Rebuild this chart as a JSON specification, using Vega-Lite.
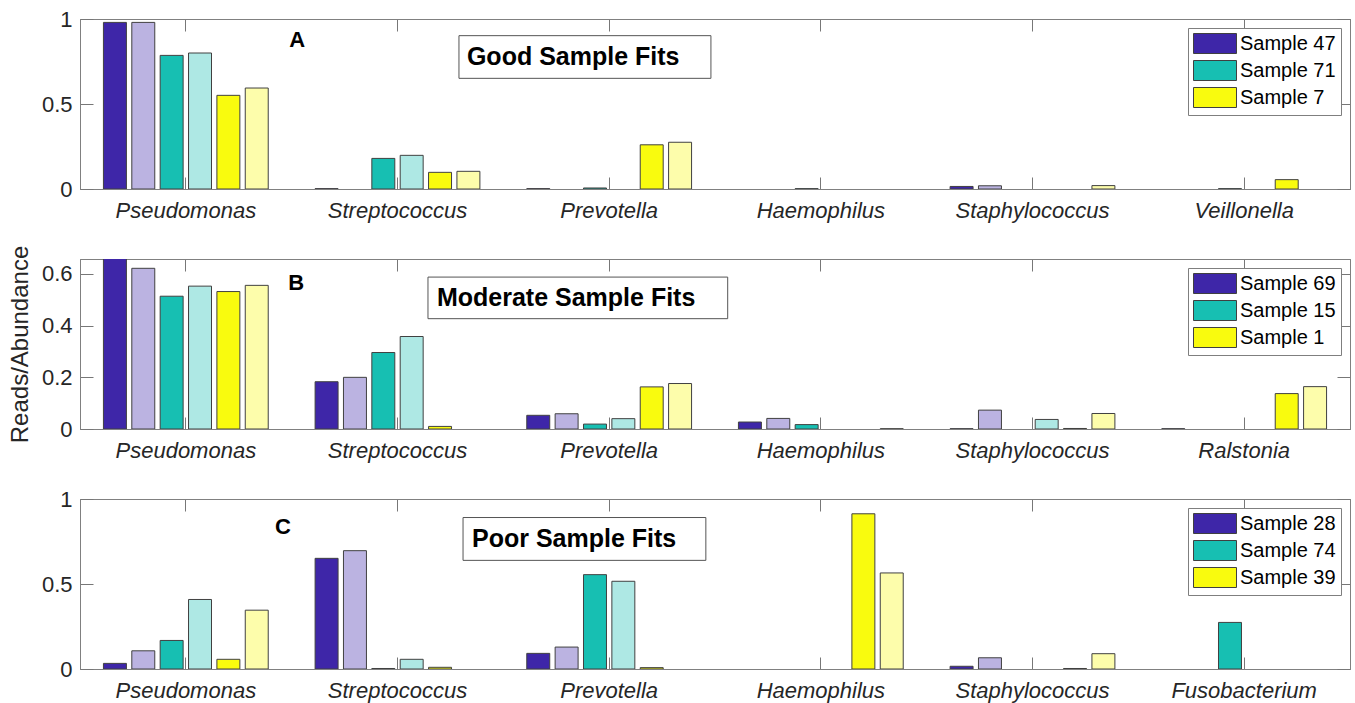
{
  "$schema": "https://vega.github.io/schema/vega-lite/v6.json",
  "padding": {"left": 7, "top": 7, "right": 5, "bottom": 5},
  "spacing": 70,
  "bounds": "flush",
  "config": {
    "font": "Liberation Sans",
    "view": {"stroke": "#808080", "strokeWidth": 1},
    "axis": {"grid": false, "domainColor": "#808080", "tickColor": "#777777", "tickWidth": 1, "labelColor": "#262626", "labelFontSize": 22, "titleFontWeight": "normal", "labelFont": "Liberation Sans", "titleFont": "Liberation Sans"},
    "legend": {"labelFont": "Liberation Sans"}
  },
  "resolve": {
    "scale": {"x": "independent", "y": "independent", "xOffset": "independent", "color": "independent"},
    "legend": {"color": "independent"}
  },
  "vconcat": [
    {
      "width": 1270,
      "height": 170,
      "data": {"values": [
        {"genus": "Pseudomonas", "series": "Sample 47", "value": 0.98},
        {"genus": "Pseudomonas", "series": "Sample 47 (abundance)", "value": 0.98},
        {"genus": "Pseudomonas", "series": "Sample 71", "value": 0.786},
        {"genus": "Pseudomonas", "series": "Sample 71 (abundance)", "value": 0.8},
        {"genus": "Pseudomonas", "series": "Sample 7", "value": 0.551},
        {"genus": "Pseudomonas", "series": "Sample 7 (abundance)", "value": 0.594},
        {"genus": "Streptococcus", "series": "Sample 47", "value": 0.002},
        {"genus": "Streptococcus", "series": "Sample 71", "value": 0.18},
        {"genus": "Streptococcus", "series": "Sample 71 (abundance)", "value": 0.198},
        {"genus": "Streptococcus", "series": "Sample 7", "value": 0.098},
        {"genus": "Streptococcus", "series": "Sample 7 (abundance)", "value": 0.104},
        {"genus": "Prevotella", "series": "Sample 47", "value": 0.002},
        {"genus": "Prevotella", "series": "Sample 71", "value": 0.006},
        {"genus": "Prevotella", "series": "Sample 7", "value": 0.26},
        {"genus": "Prevotella", "series": "Sample 7 (abundance)", "value": 0.275},
        {"genus": "Haemophilus", "series": "Sample 71", "value": 0.002},
        {"genus": "Staphylococcus", "series": "Sample 47", "value": 0.015},
        {"genus": "Staphylococcus", "series": "Sample 47 (abundance)", "value": 0.019},
        {"genus": "Staphylococcus", "series": "Sample 7 (abundance)", "value": 0.02},
        {"genus": "Veillonella", "series": "Sample 71", "value": 0.002},
        {"genus": "Veillonella", "series": "Sample 7", "value": 0.055}
      ]},
      "resolve": {"axis": {"x": "independent", "y": "independent"}},
      "layer": [
        {
          "mark": {"type": "bar", "stroke": "#404040", "strokeWidth": 1, "clip": true},
          "encoding": {
            "x": {"field": "genus", "type": "nominal",
              "scale": {"domain": ["Pseudomonas", "Streptococcus", "Prevotella", "Haemophilus", "Staphylococcus", "Veillonella"], "paddingInner": 0.2, "paddingOuter": 0.1},
              "axis": {"orient": "bottom", "title": null, "labelAngle": 0, "labelFontSize": 22, "labelFontStyle": "italic", "tickSize": -12, "labelPadding": 23}},
            "xOffset": {"field": "series", "type": "nominal",
              "scale": {"domain": ["Sample 47", "Sample 47 (abundance)", "Sample 71", "Sample 71 (abundance)", "Sample 7", "Sample 7 (abundance)"], "paddingInner": 0.19, "paddingOuter": 0.08}},
            "y": {"field": "value", "type": "quantitative",
              "scale": {"domain": [0, 1], "nice": false},
              "axis": {"orient": "left", "title": null, "values": [0, 0.5, 1], "format": "~g", "tickSize": -13, "labelPadding": 21, "labelFlush": false}},
            "color": {"field": "series", "type": "nominal",
              "scale": {"domain": ["Sample 47", "Sample 47 (abundance)", "Sample 71", "Sample 71 (abundance)", "Sample 7", "Sample 7 (abundance)"], "range": ["#3e26a8", "#bbb3e1", "#17bfb2", "#aee8e4", "#f9fb0e", "#fdfdab"]},
              "legend": {"title": null, "orient": "top-right", "offset": 9, "values": ["Sample 47", "Sample 71", "Sample 7"], "symbolType": "M-1,-1H3.3V1H-1Z", "symbolSize": 400, "symbolStrokeColor": "#404040", "symbolStrokeWidth": 1, "symbolOpacity": 1, "labelFontSize": 20, "labelColor": "black", "labelOffset": 26, "rowPadding": 2, "padding": 5, "strokeColor": "#7f7f7f", "fillColor": "white", "labelLimit": 300}}
          }
        },
        {
          "mark": {"type": "point", "opacity": 0},
          "encoding": {
            "x": {"field": "genus", "type": "nominal", "axis": {"orient": "top", "labels": false, "title": null, "tickSize": -12}},
            "y": {"field": "value", "type": "quantitative", "axis": {"orient": "right", "labels": false, "title": null, "values": [0, 0.5, 1], "tickSize": -13}}
          }
        },
        {
          "data": {"values": [{"label": "Good Sample Fits"}]},
          "mark": {"type": "rect", "fill": "white", "stroke": "#555555", "strokeWidth": 1},
          "encoding": {
            "x": {"datum": "Streptococcus", "bandPosition": 0.863, "axis": null},
            "x2": {"datum": "Prevotella", "bandPosition": 1.101},
            "y": {"datum": 0.902, "axis": null},
            "y2": {"datum": 0.651}
          }
        },
        {
          "data": {"values": [{"label": "Good Sample Fits"}]},
          "mark": {"type": "text", "align": "left", "baseline": "middle", "fontSize": 25, "fontWeight": "bold", "color": "black"},
          "encoding": {
            "x": {"datum": "Streptococcus", "bandPosition": 0.91, "axis": null},
            "y": {"datum": 0.776, "axis": null},
            "text": {"field": "label"}
          }
        },
        {
          "data": {"values": [{"label": "A"}]},
          "mark": {"type": "text", "align": "center", "baseline": "middle", "fontSize": 22, "fontWeight": "bold", "color": "black"},
          "encoding": {
            "x": {"datum": "Pseudomonas", "bandPosition": 1.157, "axis": null},
            "y": {"datum": 0.874, "axis": null},
            "text": {"field": "label"}
          }
        }
      ]
    },
    {
      "width": 1270,
      "height": 170,
      "data": {"values": [
        {"genus": "Pseudomonas", "series": "Sample 69", "value": 0.68},
        {"genus": "Pseudomonas", "series": "Sample 69 (abundance)", "value": 0.622},
        {"genus": "Pseudomonas", "series": "Sample 15", "value": 0.514},
        {"genus": "Pseudomonas", "series": "Sample 15 (abundance)", "value": 0.553},
        {"genus": "Pseudomonas", "series": "Sample 1", "value": 0.532},
        {"genus": "Pseudomonas", "series": "Sample 1 (abundance)", "value": 0.556},
        {"genus": "Streptococcus", "series": "Sample 69", "value": 0.183},
        {"genus": "Streptococcus", "series": "Sample 69 (abundance)", "value": 0.2},
        {"genus": "Streptococcus", "series": "Sample 15", "value": 0.296},
        {"genus": "Streptococcus", "series": "Sample 15 (abundance)", "value": 0.358},
        {"genus": "Streptococcus", "series": "Sample 1", "value": 0.01},
        {"genus": "Prevotella", "series": "Sample 69", "value": 0.053},
        {"genus": "Prevotella", "series": "Sample 69 (abundance)", "value": 0.059},
        {"genus": "Prevotella", "series": "Sample 15", "value": 0.019},
        {"genus": "Prevotella", "series": "Sample 15 (abundance)", "value": 0.04},
        {"genus": "Prevotella", "series": "Sample 1", "value": 0.163},
        {"genus": "Prevotella", "series": "Sample 1 (abundance)", "value": 0.176},
        {"genus": "Haemophilus", "series": "Sample 69", "value": 0.027},
        {"genus": "Haemophilus", "series": "Sample 69 (abundance)", "value": 0.041},
        {"genus": "Haemophilus", "series": "Sample 15", "value": 0.017},
        {"genus": "Haemophilus", "series": "Sample 1 (abundance)", "value": 0.001},
        {"genus": "Staphylococcus", "series": "Sample 69", "value": 0.001},
        {"genus": "Staphylococcus", "series": "Sample 69 (abundance)", "value": 0.073},
        {"genus": "Staphylococcus", "series": "Sample 15 (abundance)", "value": 0.037},
        {"genus": "Staphylococcus", "series": "Sample 1", "value": 0.002},
        {"genus": "Staphylococcus", "series": "Sample 1 (abundance)", "value": 0.06},
        {"genus": "Ralstonia", "series": "Sample 69", "value": 0.001},
        {"genus": "Ralstonia", "series": "Sample 1", "value": 0.137},
        {"genus": "Ralstonia", "series": "Sample 1 (abundance)", "value": 0.164}
      ]},
      "resolve": {"axis": {"x": "independent", "y": "independent"}},
      "layer": [
        {
          "mark": {"type": "bar", "stroke": "#404040", "strokeWidth": 1, "clip": true},
          "encoding": {
            "x": {"field": "genus", "type": "nominal",
              "scale": {"domain": ["Pseudomonas", "Streptococcus", "Prevotella", "Haemophilus", "Staphylococcus", "Ralstonia"], "paddingInner": 0.2, "paddingOuter": 0.1},
              "axis": {"orient": "bottom", "title": null, "labelAngle": 0, "labelFontSize": 22, "labelFontStyle": "italic", "tickSize": -12, "labelPadding": 23}},
            "xOffset": {"field": "series", "type": "nominal",
              "scale": {"domain": ["Sample 69", "Sample 69 (abundance)", "Sample 15", "Sample 15 (abundance)", "Sample 1", "Sample 1 (abundance)"], "paddingInner": 0.19, "paddingOuter": 0.08}},
            "y": {"field": "value", "type": "quantitative",
              "scale": {"domain": [0, 0.658], "nice": false},
              "axis": {"orient": "left", "title": "Reads/Abundance", "titleFontSize": 24, "titleColor": "#262626", "titlePadding": 9, "values": [0, 0.2, 0.4, 0.6], "format": "~g", "tickSize": -13, "labelPadding": 21, "labelFlush": false}},
            "color": {"field": "series", "type": "nominal",
              "scale": {"domain": ["Sample 69", "Sample 69 (abundance)", "Sample 15", "Sample 15 (abundance)", "Sample 1", "Sample 1 (abundance)"], "range": ["#3e26a8", "#bbb3e1", "#17bfb2", "#aee8e4", "#f9fb0e", "#fdfdab"]},
              "legend": {"title": null, "orient": "top-right", "offset": 9, "values": ["Sample 69", "Sample 15", "Sample 1"], "symbolType": "M-1,-1H3.3V1H-1Z", "symbolSize": 400, "symbolStrokeColor": "#404040", "symbolStrokeWidth": 1, "symbolOpacity": 1, "labelFontSize": 20, "labelColor": "black", "labelOffset": 26, "rowPadding": 2, "padding": 5, "strokeColor": "#7f7f7f", "fillColor": "white", "labelLimit": 300}}
          }
        },
        {
          "mark": {"type": "point", "opacity": 0},
          "encoding": {
            "x": {"field": "genus", "type": "nominal", "axis": {"orient": "top", "labels": false, "title": null, "tickSize": -12}},
            "y": {"field": "value", "type": "quantitative", "axis": {"orient": "right", "labels": false, "title": null, "values": [0, 0.2, 0.4, 0.6], "tickSize": -13}}
          }
        },
        {
          "data": {"values": [{"label": "Moderate Sample Fits"}]},
          "mark": {"type": "rect", "fill": "white", "stroke": "#555555", "strokeWidth": 1},
          "encoding": {
            "x": {"datum": "Streptococcus", "bandPosition": 0.68, "axis": null},
            "x2": {"datum": "Prevotella", "bandPosition": 1.2},
            "y": {"datum": 0.588, "axis": null},
            "y2": {"datum": 0.427}
          }
        },
        {
          "data": {"values": [{"label": "Moderate Sample Fits"}]},
          "mark": {"type": "text", "align": "left", "baseline": "middle", "fontSize": 25, "fontWeight": "bold", "color": "black"},
          "encoding": {
            "x": {"datum": "Streptococcus", "bandPosition": 0.733, "axis": null},
            "y": {"datum": 0.508, "axis": null},
            "text": {"field": "label"}
          }
        },
        {
          "data": {"values": [{"label": "B"}]},
          "mark": {"type": "text", "align": "center", "baseline": "middle", "fontSize": 22, "fontWeight": "bold", "color": "black"},
          "encoding": {
            "x": {"datum": "Pseudomonas", "bandPosition": 1.151, "axis": null},
            "y": {"datum": 0.564, "axis": null},
            "text": {"field": "label"}
          }
        }
      ]
    },
    {
      "width": 1270,
      "height": 170,
      "data": {"values": [
        {"genus": "Pseudomonas", "series": "Sample 28", "value": 0.033},
        {"genus": "Pseudomonas", "series": "Sample 28 (abundance)", "value": 0.107},
        {"genus": "Pseudomonas", "series": "Sample 74", "value": 0.168},
        {"genus": "Pseudomonas", "series": "Sample 74 (abundance)", "value": 0.409},
        {"genus": "Pseudomonas", "series": "Sample 39", "value": 0.057},
        {"genus": "Pseudomonas", "series": "Sample 39 (abundance)", "value": 0.346},
        {"genus": "Streptococcus", "series": "Sample 28", "value": 0.651},
        {"genus": "Streptococcus", "series": "Sample 28 (abundance)", "value": 0.696},
        {"genus": "Streptococcus", "series": "Sample 74", "value": 0.003},
        {"genus": "Streptococcus", "series": "Sample 74 (abundance)", "value": 0.057},
        {"genus": "Streptococcus", "series": "Sample 39", "value": 0.01},
        {"genus": "Prevotella", "series": "Sample 28", "value": 0.092},
        {"genus": "Prevotella", "series": "Sample 28 (abundance)", "value": 0.129},
        {"genus": "Prevotella", "series": "Sample 74", "value": 0.555},
        {"genus": "Prevotella", "series": "Sample 74 (abundance)", "value": 0.516},
        {"genus": "Prevotella", "series": "Sample 39", "value": 0.008},
        {"genus": "Haemophilus", "series": "Sample 39", "value": 0.913},
        {"genus": "Haemophilus", "series": "Sample 39 (abundance)", "value": 0.565},
        {"genus": "Staphylococcus", "series": "Sample 28", "value": 0.016},
        {"genus": "Staphylococcus", "series": "Sample 28 (abundance)", "value": 0.066},
        {"genus": "Staphylococcus", "series": "Sample 39", "value": 0.003},
        {"genus": "Staphylococcus", "series": "Sample 39 (abundance)", "value": 0.09},
        {"genus": "Fusobacterium", "series": "Sample 74", "value": 0.274}
      ]},
      "resolve": {"axis": {"x": "independent", "y": "independent"}},
      "layer": [
        {
          "mark": {"type": "bar", "stroke": "#404040", "strokeWidth": 1, "clip": true},
          "encoding": {
            "x": {"field": "genus", "type": "nominal",
              "scale": {"domain": ["Pseudomonas", "Streptococcus", "Prevotella", "Haemophilus", "Staphylococcus", "Fusobacterium"], "paddingInner": 0.2, "paddingOuter": 0.1},
              "axis": {"orient": "bottom", "title": null, "labelAngle": 0, "labelFontSize": 22, "labelFontStyle": "italic", "tickSize": -12, "labelPadding": 23}},
            "xOffset": {"field": "series", "type": "nominal",
              "scale": {"domain": ["Sample 28", "Sample 28 (abundance)", "Sample 74", "Sample 74 (abundance)", "Sample 39", "Sample 39 (abundance)"], "paddingInner": 0.19, "paddingOuter": 0.08}},
            "y": {"field": "value", "type": "quantitative",
              "scale": {"domain": [0, 1], "nice": false},
              "axis": {"orient": "left", "title": null, "values": [0, 0.5, 1], "format": "~g", "tickSize": -13, "labelPadding": 21, "labelFlush": false}},
            "color": {"field": "series", "type": "nominal",
              "scale": {"domain": ["Sample 28", "Sample 28 (abundance)", "Sample 74", "Sample 74 (abundance)", "Sample 39", "Sample 39 (abundance)"], "range": ["#3e26a8", "#bbb3e1", "#17bfb2", "#aee8e4", "#f9fb0e", "#fdfdab"]},
              "legend": {"title": null, "orient": "top-right", "offset": 9, "values": ["Sample 28", "Sample 74", "Sample 39"], "symbolType": "M-1,-1H3.3V1H-1Z", "symbolSize": 400, "symbolStrokeColor": "#404040", "symbolStrokeWidth": 1, "symbolOpacity": 1, "labelFontSize": 20, "labelColor": "black", "labelOffset": 26, "rowPadding": 2, "padding": 5, "strokeColor": "#7f7f7f", "fillColor": "white", "labelLimit": 300}}
          }
        },
        {
          "mark": {"type": "point", "opacity": 0},
          "encoding": {
            "x": {"field": "genus", "type": "nominal", "axis": {"orient": "top", "labels": false, "title": null, "tickSize": -12}},
            "y": {"field": "value", "type": "quantitative", "axis": {"orient": "right", "labels": false, "title": null, "values": [0, 0.5, 1], "tickSize": -13}}
          }
        },
        {
          "data": {"values": [{"label": "Poor Sample Fits"}]},
          "mark": {"type": "rect", "fill": "white", "stroke": "#555555", "strokeWidth": 1},
          "encoding": {
            "x": {"datum": "Streptococcus", "bandPosition": 0.887, "axis": null},
            "x2": {"datum": "Prevotella", "bandPosition": 1.071},
            "y": {"datum": 0.891, "axis": null},
            "y2": {"datum": 0.639}
          }
        },
        {
          "data": {"values": [{"label": "Poor Sample Fits"}]},
          "mark": {"type": "text", "align": "left", "baseline": "middle", "fontSize": 25, "fontWeight": "bold", "color": "black"},
          "encoding": {
            "x": {"datum": "Streptococcus", "bandPosition": 0.94, "axis": null},
            "y": {"datum": 0.765, "axis": null},
            "text": {"field": "label"}
          }
        },
        {
          "data": {"values": [{"label": "C"}]},
          "mark": {"type": "text", "align": "center", "baseline": "middle", "fontSize": 22, "fontWeight": "bold", "color": "black"},
          "encoding": {
            "x": {"datum": "Pseudomonas", "bandPosition": 1.074, "axis": null},
            "y": {"datum": 0.833, "axis": null},
            "text": {"field": "label"}
          }
        }
      ]
    }
  ]
}
